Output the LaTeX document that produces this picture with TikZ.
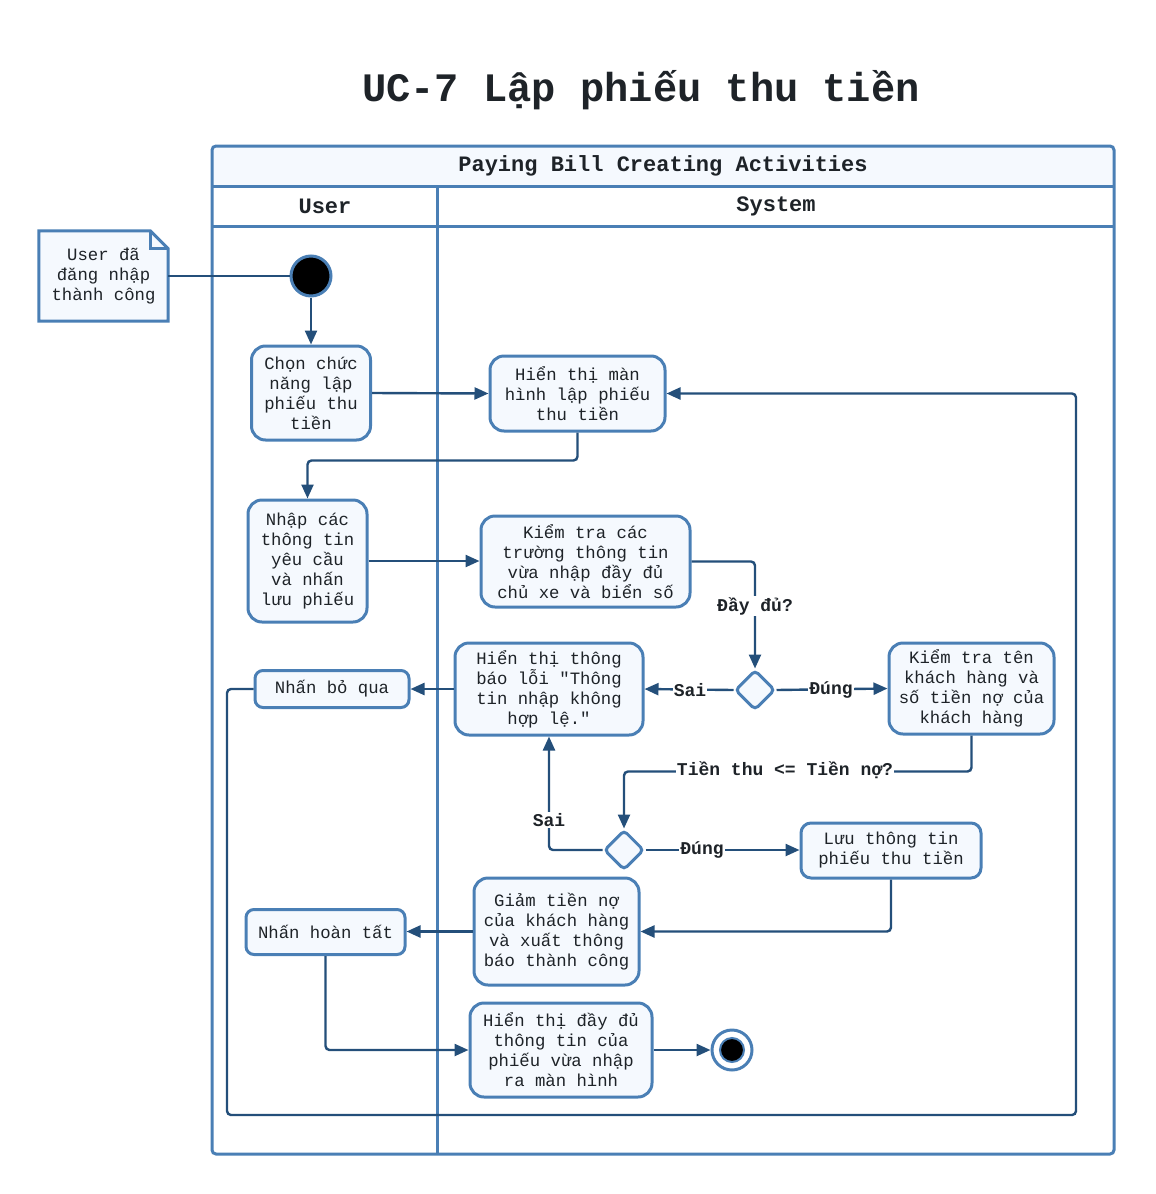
\documentclass[tikz,border=0pt]{standalone}
\usepackage{fontspec}
\setmainfont{Liberation Mono}[Ligatures=TeXOff]
\usetikzlibrary{arrows.meta,shapes.geometric}
\definecolor{laneblue}{RGB}{74,127,181}
\definecolor{boxfill}{RGB}{245,249,254}
\definecolor{arrowc}{RGB}{36,79,122}
\definecolor{txt}{RGB}{30,35,40}
\begin{document}
\begin{tikzpicture}[x=1pt,y=-1pt,
  act/.style={draw=laneblue,line width=3pt,fill=boxfill,rounded corners=14pt,align=center,inner sep=0pt,font=\fontsize{17.3}{20}\selectfont,text=txt},
  flow/.style={draw=arrowc,line width=2.4pt,-{Triangle[length=14pt,width=12pt]},rounded corners=4pt},
  plainline/.style={draw=arrowc,line width=2.4pt},
  lbl/.style={font=\bfseries\fontsize{18}{20}\selectfont,fill=white,inner sep=1pt,text=txt},
  hdr/.style={font=\bfseries\fontsize{22}{24}\selectfont,text=txt},
  decision/.style={diamond,draw=laneblue,line width=3pt,fill=boxfill,minimum width=40pt,minimum height=40pt,inner sep=0pt,rounded corners=4pt},
  lane/.style={draw=laneblue,line width=3pt}
]
\useasboundingbox (0,0) rectangle (1156,1194);
% title
\node[font=\bfseries\fontsize{40.4}{44}\selectfont,text=txt] (title) at (641,90) {UC-7 Lập phiếu thu tiền};
% pool
\fill[boxfill,rounded corners=4pt] (212,146) rectangle (1114,186);
\draw[lane,rounded corners=4pt] (212,146) rectangle (1114,1154);
\draw[lane] (212,186) -- (1114,186);
\draw[lane] (212,226) -- (1114,226);
\draw[lane] (437,186) -- (437,1154);
\node[hdr] (pooltitle) at (663,166) {Paying Bill Creating Activities};
\node[hdr] (laneuser) at (325,206) {User};
\node[hdr] (lanesys) at (776,206) {System};
% note
\node[inner sep=0pt,minimum width=129pt,minimum height=90pt] (note) at (103.5,276) {};
\draw[lane,fill=boxfill,line join=miter] (note.north west) -- ([xshift=-18pt]note.north east) -- ([yshift=-18pt]note.north east) -- (note.south east) -- (note.south west) -- cycle;
\draw[lane,line join=miter] ([xshift=-18pt]note.north east) -- ([xshift=-18pt,yshift=-18pt]note.north east) -- ([yshift=-18pt]note.north east);
\node[align=center,inner sep=0pt,font=\fontsize{17.3}{20}\selectfont,text=txt] (notetext) at (103.5,276) {User đã\\đăng nhập\\thành công};
% start and end
\node[circle,draw=laneblue,line width=3pt,fill=black,minimum size=40pt,inner sep=0pt] (start) at (311,276) {};
\node[circle,draw=laneblue,line width=3pt,fill=white,minimum size=40pt,inner sep=0pt] (end) at (732,1050) {};
\node[circle,draw=laneblue,line width=2pt,fill=black,minimum size=24pt,inner sep=0pt] (endin) at (732,1050) {};
% activities
\node[act,minimum width=119pt,minimum height=94pt] (n1) at (311,393) {Chọn chức\\năng lập\\phiếu thu\\tiền};
\node[act,minimum width=175pt,minimum height=75pt] (n2) at (577.5,393.5) {Hiển thị màn\\hình lập phiếu\\thu tiền};
\node[act,minimum width=119pt,minimum height=122pt] (n3) at (307.5,561) {Nhập các\\thông tin\\yêu cầu\\và nhấn\\lưu phiếu};
\node[act,minimum width=209pt,minimum height=91pt] (n4) at (585.5,561.5) {Kiểm tra các\\trường thông tin\\vừa nhập đầy đủ\\chủ xe và biển số};
\node[decision] (d1) at (755,690) {};
\node[act,minimum width=188pt,minimum height=92pt] (n6) at (549,689) {Hiển thị thông\\báo lỗi "Thông\\tin nhập không\\hợp lệ."};
\node[act,minimum width=165pt,minimum height=91pt] (n7) at (971.5,688.5) {Kiểm tra tên\\khách hàng và\\số tiền nợ của\\khách hàng};
\node[act,rounded corners=8pt,minimum width=154pt,minimum height=37pt] (n8) at (332,689) {Nhấn bỏ qua};
\node[decision] (d2) at (624,850) {};
\node[act,rounded corners=10pt,minimum width=180pt,minimum height=55pt] (n10) at (891,850.5) {Lưu thông tin\\phiếu thu tiền};
\node[act,minimum width=165pt,minimum height=107pt] (n11) at (556.5,931.5) {Giảm tiền nợ\\của khách hàng\\và xuất thông\\báo thành công};
\node[act,rounded corners=8pt,minimum width=159pt,minimum height=45pt] (n12) at (325.5,932) {Nhấn hoàn tất};
\node[act,minimum width=182pt,minimum height=94pt] (n13) at (561,1050) {Hiển thị đầy đủ\\thông tin của\\phiếu vừa nhập\\ra màn hình};
% connectors
\draw[plainline] (note.east) -- (start.west);
\draw[flow] (start) -- (n1);
\draw[flow] (n1.east) -- (n2.west);
\draw[flow] (n2.south) -- ++(0,28) -| (n3.north);
\draw[flow] (n3.east) -- (n3.east -| n4.west);
\draw[flow] (n4.east) -| (d1.north);
\draw[flow] (d1.west) -- (n6.east);
\draw[flow] (d1.east) -- (n7.west);
\draw[flow] (n7.south) -- ++(0,36) -| (d2.north);
\draw[flow] (d2.west) -| (n6.south);
\draw[flow] (d2.east) -- (d2.east -| n10.west);
\draw[flow] (n10.south) |- (n11.east);
\draw[flow] (n11.west) -- (n11.west -| n12.east);
\draw[flow] (n6.west) -- (n6.west -| n8.east);
\coordinate (loopA) at (227,1115);
\coordinate (loopB) at (1076,1115);
\draw[flow] (n8.west) -| (loopA) -- (loopB) |- (n2.east);
\draw[flow] (n12.south) |- (n13.west);
\draw[flow] (n13.east) -- (end.west);
% labels
\node[lbl] (lab1) at (755,606) {Đầy đủ?};
\node[lbl] (lab2) at (690,690) {Sai};
\node[lbl] (lab3) at (831,690) {Đúng};
\node[lbl] (lab4) at (785,770) {Tiền thu <= Tiền nợ?};
\node[lbl] (lab5) at (549,820) {Sai};
\node[lbl] (lab6) at (702,850) {Đúng};
\end{tikzpicture}
\end{document}
